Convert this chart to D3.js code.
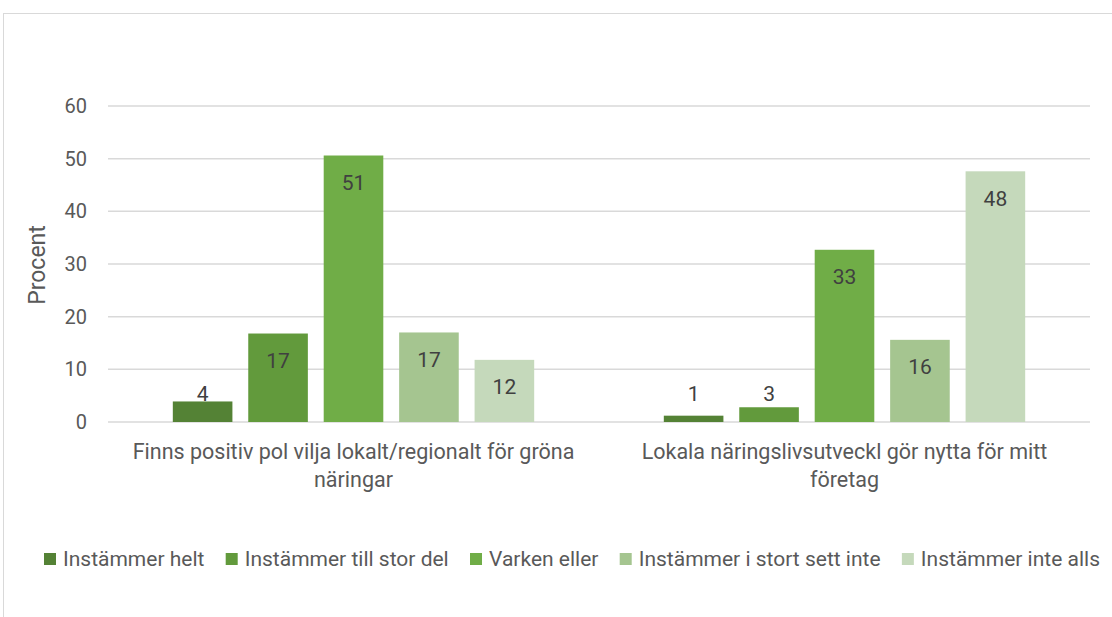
<!DOCTYPE html>
<html>
<head>
<meta charset="utf-8">
<script src="https://d3js.org/d3.v7.min.js"></script>
<style>
  body { margin: 0; background: #fff; }
  text { font-family: Roboto, "Noto Sans", sans-serif; }
</style>
</head>
<body>
<div id="chart"></div>
<script>
// categories and series
var categories = [
  ["Finns positiv pol vilja lokalt/regionalt för gröna", "näringar"],
  ["Lokala näringslivsutveckl gör nytta för mitt", "företag"]
];
var seriesNames = ["Instämmer helt", "Instämmer till stor del", "Varken eller",
                   "Instämmer i stort sett inte", "Instämmer inte alls"];
var helt      = [3.9, 1.2];
var storDel   = [16.8, 2.8];
var varken    = [50.6, 32.7];
var storttInte = [17.0, 15.6];
var inteAlls  = [11.8, 47.6];
var yTicks = [0, 10, 20, 30, 40, 50, 60];

var colors = ["#548235", "#629a3c", "#70ad47", "#a5c590", "#c5d9bb"];
var seriesValues = [helt, storDel, varken, storttInte, inteAlls];

var W = 1112, H = 617;
var margin = {top: 106, right: 22, bottom: 195, left: 108};
var width = W - margin.left - margin.right,
    height = H - margin.top - margin.bottom;

var svg = d3.select("#chart").append("svg")
  .attr("width", W).attr("height", H);

// outer chart border
svg.append("rect")
  .attr("x", 3.5).attr("y", 13.5)
  .attr("width", W + 10).attr("height", H + 10)
  .attr("fill", "none").attr("stroke", "#d9d9d9");

var g = svg.append("g").attr("transform", `translate(${margin.left},${margin.top})`);

var x0 = d3.scaleBand().domain(d3.range(categories.length)).range([0, width]);
var x1 = d3.scaleBand().domain(d3.range(seriesNames.length))
  .range([x0.bandwidth() * 0.132, x0.bandwidth() * 0.868]).paddingInner(0.21);
var y = d3.scaleLinear().domain([0, 60]).range([height, 0]);

// gridlines
g.selectAll("line.grid").data(yTicks).enter().append("line")
  .attr("x1", 0).attr("x2", width)
  .attr("y1", d => y(d)).attr("y2", d => y(d))
  .attr("stroke", "#d9d9d9").attr("stroke-width", 1.5);

// y axis labels
var yAxis = g.append("g").call(d3.axisLeft(y).tickValues(yTicks).tickSize(0).tickPadding(21));
yAxis.select(".domain").remove();
yAxis.selectAll("text").attr("fill", "#595959").style("font-size", "20px");

svg.append("text")
  .attr("transform", "translate(45,265) rotate(-90)")
  .attr("text-anchor", "middle")
  .attr("fill", "#595959").style("font-size", "23px")
  .text("Procent");

// bars
var bars = [];
seriesValues.forEach(function (vals, s) {
  vals.forEach(function (v, c) { bars.push({s: s, c: c, v: v}); });
});

g.selectAll("rect.bar").data(bars).enter().append("rect")
  .attr("x", d => x0(d.c) + x1(d.s))
  .attr("y", d => y(d.v))
  .attr("width", x1.bandwidth())
  .attr("height", d => height - y(d.v))
  .attr("fill", d => colors[d.s]);

g.selectAll("text.lbl").data(bars).enter().append("text")
  .attr("x", d => x0(d.c) + x1(d.s) + x1.bandwidth() / 2)
  .attr("y", d => Math.min(y(d.v) + 27, height - 28))
  .attr("dy", "0.35em")
  .attr("text-anchor", "middle")
  .attr("fill", "#404040").style("font-size", "21px")
  .text(d => Math.round(d.v));

// category labels
categories.forEach(function (lines, c) {
  var t = g.append("text")
    .attr("x", x0(c) + x0.bandwidth() / 2)
    .attr("y", height + 37)
    .attr("text-anchor", "middle")
    .attr("fill", "#595959").style("font-size", "21.5px");
  lines.forEach(function (ln, i) {
    t.append("tspan").attr("x", x0(c) + x0.bandwidth() / 2)
      .attr("dy", i === 0 ? 0 : 28).text(ln);
  });
});

// legend - spread evenly between x=44 and x=1100
var legend = svg.append("g").attr("transform", "translate(0,559)");
var items = seriesNames.map(function (name, i) {
  var item = legend.append("g");
  item.append("rect").attr("x", 0).attr("y", -6).attr("width", 12).attr("height", 12)
    .attr("fill", colors[i]);
  var t = item.append("text").attr("x", 19).attr("dy", "0.35em")
    .attr("fill", "#595959").style("font-size", "21px").text(name);
  return {g: item, w: 19 + t.node().getComputedTextLength()};
});
var total = d3.sum(items, d => d.w);
var gap = (1100 - 44 - total) / (items.length - 1);
var lx = 44;
items.forEach(function (it) {
  it.g.attr("transform", `translate(${lx},0)`);
  lx += it.w + gap;
});
</script>
</body>
</html>
